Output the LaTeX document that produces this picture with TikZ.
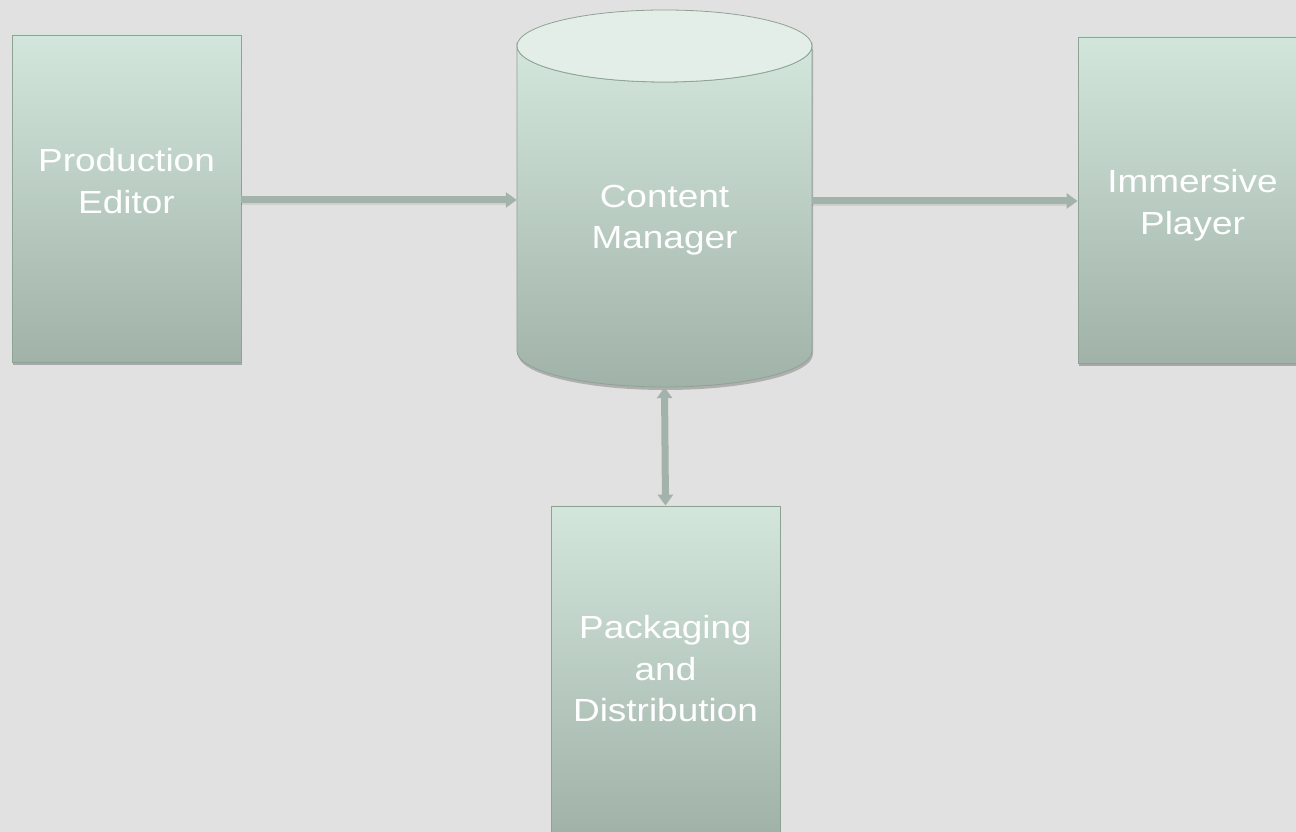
\documentclass[tikz,border=0pt]{standalone}
\usepackage{fontspec}
\usetikzlibrary{arrows.meta,shadows}
\newfontfamily\lblfont[FakeStretch=1.155]{Liberation Sans}
\definecolor{bgcol}{HTML}{E1E1E1}
\definecolor{boxtop}{HTML}{D3E6DB}
\definecolor{boxbot}{HTML}{A1B3A9}
\definecolor{boxline}{HTML}{8EA295}
\definecolor{captop}{HTML}{E3EEE8}
\definecolor{arrcol}{HTML}{A3B2AB}
\tikzset{
  stage/.style={draw=boxline, line width=0.8pt, top color=boxtop, bottom color=boxbot,
    minimum width=229pt, minimum height=326pt, inner sep=0pt,
    drop shadow={shadow xshift=1pt, shadow yshift=-3pt, opacity=0.25, fill=black}},
  lbl/.style={text=white, align=center, inner sep=0pt,
    font=\lblfont\fontsize{32}{41.5}\selectfont},
  tip/.style={Triangle[width=15pt,length=11pt]},
  flow/.style={draw=arrcol, line width=7pt, -{Triangle[width=15pt,length=11pt]}},
  flowshadow/.style={draw=black, opacity=0.08, line width=7pt},
}
\begin{document}
\begin{tikzpicture}[x=1pt,y=1pt]
  % canvas
  \fill[bgcol] (0,0) rectangle (1296,832);
  \useasboundingbox (0,0) rectangle (1296,832);

  % the three rectangular stages
  \node[stage, minimum height=327pt] (pe) at (126.5,633.5) {};
  \node[stage] (ip) at (1192.5,632) {};
  \node[stage] (pd) at (665.5,163) {};

  % content manager: cylinder (outline node used for connections)
  \node[minimum width=295pt, minimum height=377pt, inner sep=0pt] (cm) at (664.5,633.5) {};
  \fill[black, opacity=0.22, xshift=1pt, yshift=-3pt]
    (517,786) -- (517,481) arc[start angle=180, end angle=360, x radius=147.5, y radius=36]
    -- (812,786) -- cycle;
  \path[draw=boxline, line width=0.8pt, top color=boxtop, bottom color=boxbot]
    (517,786) -- (517,481) arc[start angle=180, end angle=360, x radius=147.5, y radius=36]
    -- (812,786) arc[start angle=0, end angle=-180, x radius=147.5, y radius=36] -- cycle;
  \path[draw=boxline, line width=0.8pt, fill=captop]
    (664.5,786) ellipse[x radius=147.5, y radius=36];

  % labels
  \node[lbl] (tpe) at (126.5,651) {Production\\Editor};
  \node[lbl] (tcm) at (664.5,612) {Content\\Manager};
  \node[lbl] (tip) at (1192.5,627) {Immersive\\Player};
  \node[lbl] (tpd) at (665.5,163) {Packaging\\and\\Distribution};

  % connectors
  \coordinate (a1s) at (pe.east |- 0,632);
  \coordinate (a1e) at (cm.west |- 0,632);
  \coordinate (a2s) at (cm.east |- 0,631);
  \coordinate (a2e) at (ip.west |- 0,631);
  \draw[flowshadow] ([yshift=-2pt]a1s) -- ([yshift=-2pt,xshift=-9pt]a1e);
  \draw[flowshadow] ([yshift=-2pt]a2s) -- ([yshift=-2pt,xshift=-9pt]a2e);
  \draw[flow] (a1s) -- (a1e);
  \draw[flow] (a2s) -- (a2e);
  \draw[flow, {Triangle[width=15pt,length=11pt]}-{Triangle[width=15pt,length=11pt]}]
    (cm.south) -- (pd.north);
\end{tikzpicture}
\end{document}
